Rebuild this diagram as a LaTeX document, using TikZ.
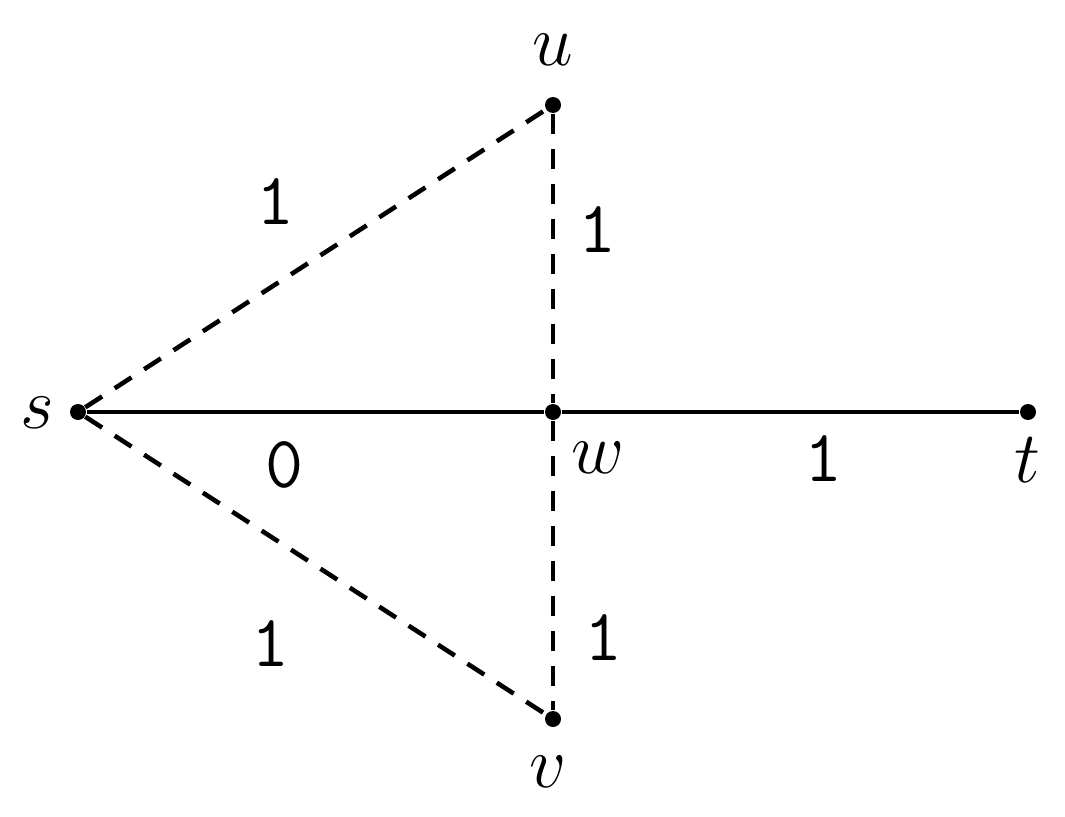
\documentclass[tikz,border=0pt]{standalone}
\tikzset{
  vtx/.style={circle,fill,inner sep=0pt,minimum size=0.16cm},
  lbl/.style={font=\fontsize{21}{24}\selectfont},
  wt/.style={font=\ttfamily\fontsize{21}{24}\selectfont},
  edge/.style={line width=1.3pt},
  dedge/.style={line width=1.3pt,dash pattern=on 0.2cm off 0.15cm}
}
\begin{document}
\begin{tikzpicture}
	\useasboundingbox (0,0) rectangle (10.65,8.16);
		\node[vtx] (s)at(0.78,4.04){};
		\node[vtx] (u)at(5.53,7.11){};
		\node[vtx] (w)at(5.53,4.04){};
		\node[vtx] (t)at(10.28,4.04){};
		\node[vtx] (v)at(5.53,0.97){};

		\node[lbl] (ls)at(0.37,4.03){$s$};
		\node[lbl] (lu)at(5.53,7.66){$u$};
		\node[lbl] (lw)at(5.98,3.58){$w$};
		\node[lbl] (lt)at(10.27,3.56){$t$};
		\node[lbl] (lv)at(5.48,0.44){$v$};

		\node[wt] (su)at(2.76,6.14){1};
		\node[wt] (uw)at(5.97,5.86){1};
		\node[wt] (sw)at(2.85,3.51){0};
		\node[wt] (wt)at(8.23,3.57){1};
		\node[wt] (sv)at(2.71,1.72){1};
		\node[wt] (wv)at(6.03,1.78){1};

		\draw [dedge] (s) -- (u);
		\draw [dedge] (s) -- (v);
		\draw [dedge] (u) -- (w);
		\draw [dedge] (w) -- (v);
		\draw [edge] (s) -- (w);
		\draw [edge] (w) -- (t);
	\end{tikzpicture}
\end{document}
